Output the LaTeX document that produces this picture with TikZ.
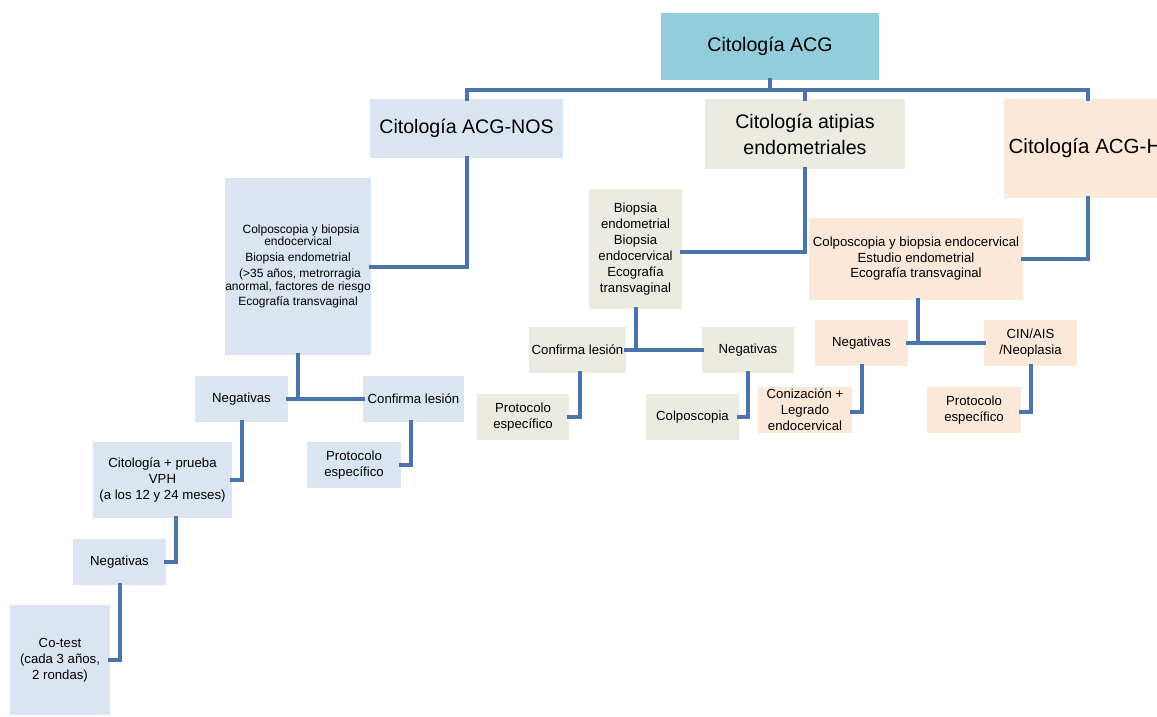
\documentclass[tikz,border=0pt]{standalone}
\usepackage{fontspec}
\setmainfont{Liberation Sans}
\usetikzlibrary{calc}
\definecolor{cacg}{HTML}{92CDDC}
\definecolor{cnos}{HTML}{DBE5F1}
\definecolor{catp}{HTML}{ECEBE1}
\definecolor{cpch}{HTML}{FCE8D8}
\definecolor{cline}{HTML}{4A74AB}
\tikzset{
  bx/.style={inner sep=0pt, align=center, text=black, font=\fontsize{13.2}{16}\selectfont},
  big/.style={inner sep=0pt, align=center, text=black, font=\fontsize{19.6}{26}\selectfont},
  conn/.style={draw=cline, line width=4pt, line join=miter, line cap=rect},
}
\begin{document}
\begin{tikzpicture}[x=1pt,y=-1pt]
\clip (0,0) rectangle (1157,716);
\fill[white] (0,0) rectangle (1157,716);
% top level
\node[big, fill=cacg, minimum width=218pt, minimum height=67pt] (acg) at (770,46.5) {Citología ACG};
\node[big, fill=cnos, minimum width=193pt, minimum height=59pt] (nos) at (466.5,128.5) {\raisebox{-2pt}{Citología ACG-NOS}};
\node[big, fill=catp, minimum width=200pt, minimum height=70pt] (atip) at (805,134) {Citología atipias\\endometriales};
\node[big, fill=cpch, minimum width=168pt, minimum height=99pt, font=\fontsize{20.5}{26}\selectfont] (acgh) at (1088,148.5) {\hspace*{-6pt}Citología ACG-H};
% NOS branch
\node[bx, fill=cnos, minimum width=146pt, minimum height=177pt, font=\fontsize{12}{12.5}\selectfont] (nosd) at (298,266.5)
  {\hspace*{6pt}Colposcopia y biopsia\\endocervical\\[3.5pt]Biopsia endometrial\\[3.5pt]\hspace*{4pt}(>35 años, metrorragia\\anormal, factores de riesgo\\[3pt]Ecografía transvaginal};
\node[bx, fill=cnos, minimum width=93pt, minimum height=46pt] (neg1) at (241.5,399) {Negativas};
\node[bx, fill=cnos, minimum width=101pt, minimum height=46pt] (conf1) at (413.5,399) {Confirma lesión};
\node[bx, fill=cnos, minimum width=139pt, minimum height=76pt] (vph) at (162.5,480) {Citología + prueba\\VPH\\(a los 12 y 24 meses)};
\node[bx, fill=cnos, minimum width=94pt, minimum height=46pt] (prot1) at (354,465) {Protocolo\\específico};
\node[bx, fill=cnos, minimum width=93pt, minimum height=46pt] (neg2) at (119.5,562) {Negativas};
\node[bx, fill=cnos, minimum width=100pt, minimum height=110pt] (cotest) at (60,660) {Co-test\\(cada 3 años,\\2 rondas)};
% atipias branch
\node[bx, fill=catp, minimum width=93pt, minimum height=120pt] (bio) at (635.5,249) {Biopsia\\endometrial\\Biopsia\\endocervical\\Ecografía\\transvaginal};
\node[bx, fill=catp, minimum width=97pt, minimum height=46pt] (conf2) at (577.5,350) {Confirma lesión};
\node[bx, fill=catp, minimum width=92pt, minimum height=46pt] (neg3) at (748,350) {Negativas};
\node[bx, fill=catp, minimum width=92pt, minimum height=46pt] (prot2) at (523,417) {Protocolo\\específico};
\node[bx, fill=catp, minimum width=93pt, minimum height=46pt] (colp) at (692.5,417) {Colposcopia};
% ACG-H branch
\node[bx, fill=cpch, minimum width=214pt, minimum height=82pt, font=\fontsize{13.2}{15.5}\selectfont] (hd) at (916,259) {Colposcopia y biopsia endocervical\\Estudio endometrial\\Ecografía transvaginal};
\node[bx, fill=cpch, minimum width=93pt, minimum height=46pt] (neg4) at (861.5,343) {Negativas};
\node[bx, fill=cpch, minimum width=93pt, minimum height=46pt] (cin) at (1030.5,343) {CIN/AIS\\/Neoplasia};
\node[bx, fill=cpch, minimum width=94pt, minimum height=46pt] (coni) at (805,410) {Conización +\\Legrado\\endocervical};
\node[bx, fill=cpch, minimum width=94pt, minimum height=46pt] (prot3) at (974,410) {Protocolo\\específico};
% connectors
\coordinate (bus) at (770,90);
\draw[conn] (acg.south) -- (bus);
\draw[conn] (nos.north) |- (bus) -| (acgh.north);
\draw[conn] (atip.north) -- (atip.north |- bus);
\draw[conn] (nos.south) |- (nosd.east);
\draw[conn] (nosd.south) -- (nosd.south |- neg1.east);
\draw[conn] (neg1.east) -- (conf1.west);
\draw[conn] (neg1.south) |- (vph.east);
\draw[conn] ([xshift=-2.5pt]conf1.south) |- (prot1.east);
\draw[conn] ([xshift=13.5pt]vph.south) |- (neg2.east);
\draw[conn] (neg2.south) |- (cotest.east);
\draw[conn] (atip.south) |- ([yshift=-3pt]bio.east);
\draw[conn] (bio.south) -- (bio.south |- conf2.east);
\draw[conn] (conf2.east) -- (neg3.west);
\draw[conn] ([xshift=2.5pt]conf2.south) |- (prot2.east);
\draw[conn] (neg3.south) |- (colp.east);
\draw[conn] (acgh.south) |- (hd.east);
\draw[conn] ([xshift=2pt]hd.south) -- ([xshift=2pt]hd.south |- neg4.east);
\draw[conn] (neg4.east) -- (cin.west);
\draw[conn] (neg4.south) |- ([yshift=-2pt]coni.east);
\draw[conn] (cin.south) |- ([yshift=-2pt]prot3.east);
\end{tikzpicture}
\end{document}
